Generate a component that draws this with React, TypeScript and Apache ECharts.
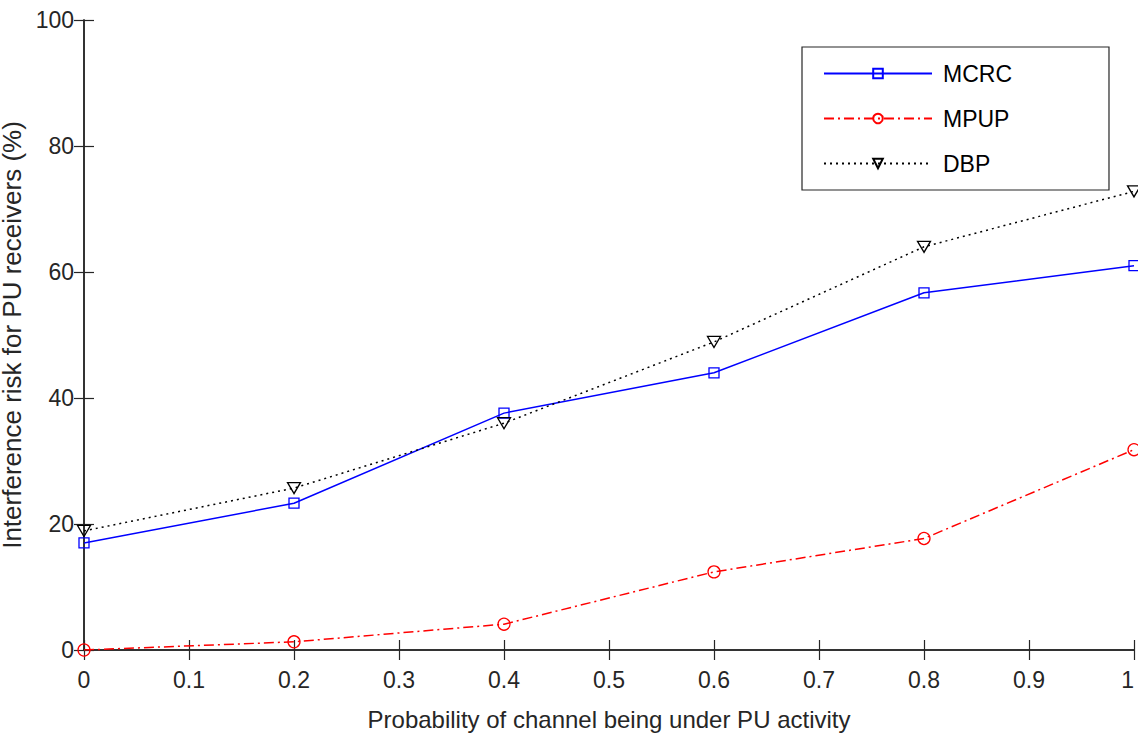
import React, { useEffect, useRef } from "react";
import * as echarts from "echarts";

const xValues = [0, 0.2, 0.4, 0.6, 0.8, 1];
const mcrc = [17.0, 23.3, 37.6, 44.0, 56.7, 61.0];
const mpup = [0.0, 1.3, 4.1, 12.4, 17.7, 31.8];
const dbp = [18.9, 25.7, 36.0, 48.9, 64.0, 72.8];
const seriesNames = ["MCRC", "MPUP", "DBP"];
const xTitle = "Probability of channel being under PU activity";
const yTitle = "Interference risk for PU receivers (%)";

const FONT = "'Liberation Sans', Arial, sans-serif";
const AXIS = "#262626";

export default function App() {
  const ref = useRef<HTMLDivElement>(null);
  useEffect(() => {
    if (!ref.current) return;
    const chart = echarts.init(ref.current, null, { renderer: "svg" });
    const pair = (ys: number[]) => xValues.map((x, i) => [x, ys[i]]);
    const tickLabel = { color: AXIS, fontFamily: FONT, fontSize: 23 };
    chart.setOption({
      animation: false,
      backgroundColor: "#fff",
      grid: {
        left: 84,
        right: 4,
        top: 20,
        bottom: 85,
        show: false,
        containLabel: false,
        outerBoundsMode: "none",
      },
      legend: {
        orient: "vertical",
        left: 802,
        top: 47,
        data: seriesNames,
        itemWidth: 108,
        itemHeight: 12,
        itemGap: 22,
        padding: [15, 97, 15, 21],
        borderColor: AXIS,
        borderWidth: 1.2,
        backgroundColor: "#fff",
        textStyle: { color: "#000", fontFamily: FONT, fontSize: 23, padding: [0, 0, 0, 6] },
      },
      xAxis: [
        {
          type: "value",
          min: 0,
          max: 1,
          interval: 0.1,
          name: xTitle,
          nameLocation: "middle",
          nameGap: 57,
          nameTextStyle: { color: AXIS, fontFamily: FONT, fontSize: 24 },
          axisLine: { show: true, lineStyle: { color: AXIS, width: 1.5 } },
          axisTick: { show: true, inside: true, length: 10, lineStyle: { color: AXIS, width: 1.2 } },
          axisLabel: {
            ...tickLabel,
            margin: 18,
            alignMaxLabel: "right",
            formatter: (v: number) => String(Math.round(v * 10) / 10),
          },
          splitLine: { show: false },
        },
        {
          type: "value",
          position: "top",
          min: 0,
          max: 1,
          interval: 0.1,
          axisLine: { show: true, lineStyle: { color: AXIS, width: 1.5 } },
          axisTick: { show: true, inside: true, length: 10, lineStyle: { color: AXIS, width: 1.2 } },
          axisLabel: { show: false },
          splitLine: { show: false },
        },
      ],
      yAxis: [
        {
          type: "value",
          min: 0,
          max: 100,
          interval: 20,
          name: yTitle,
          nameLocation: "middle",
          nameGap: 45,
          nameTextStyle: { color: AXIS, fontFamily: FONT, fontSize: 26 },
          axisLine: { show: true, lineStyle: { color: AXIS, width: 1.5 } },
          axisTick: { show: true, inside: true, length: 10, lineStyle: { color: AXIS, width: 1.2 } },
          axisLabel: { ...tickLabel, margin: 10 },
          splitLine: { show: false },
        },
        {
          type: "value",
          position: "right",
          min: 0,
          max: 100,
          interval: 20,
          axisLine: { show: true, lineStyle: { color: AXIS, width: 1.5 } },
          axisTick: { show: true, inside: true, length: 10, lineStyle: { color: AXIS, width: 1.2 } },
          axisLabel: { show: false },
          splitLine: { show: false },
        },
      ],
      series: [
        {
          name: seriesNames[0],
          type: "line",
          data: pair(mcrc),
          symbol: "rect",
          symbolSize: 10,
          showAllSymbol: true,
          lineStyle: { color: "#0000ff", width: 1.5, type: "solid" },
          itemStyle: { color: "rgba(255,255,255,0)", borderColor: "#0000ff", borderWidth: 1.3 },
          z: 3,
        },
        {
          name: seriesNames[1],
          type: "line",
          data: pair(mpup),
          symbol: "circle",
          symbolSize: 12,
          lineStyle: { color: "#ff0000", width: 1.5, type: [10, 4, 2, 4] },
          itemStyle: { color: "rgba(255,255,255,0)", borderColor: "#ff0000", borderWidth: 1.3 },
          z: 3,
        },
        {
          name: seriesNames[2],
          type: "line",
          data: pair(dbp),
          symbol: "triangle",
          symbolRotate: 180,
          symbolSize: [13, 11],
          lineStyle: { color: "#000000", width: 1.5, type: [2, 4] },
          itemStyle: { color: "rgba(255,255,255,0)", borderColor: "#000000", borderWidth: 1.3 },
          z: 3,
        },
      ],
    });
    return () => chart.dispose();
  }, []);
  return <div ref={ref} style={{ width: 1138, height: 735, position: "absolute", left: 0, top: 0 }} />;
}
